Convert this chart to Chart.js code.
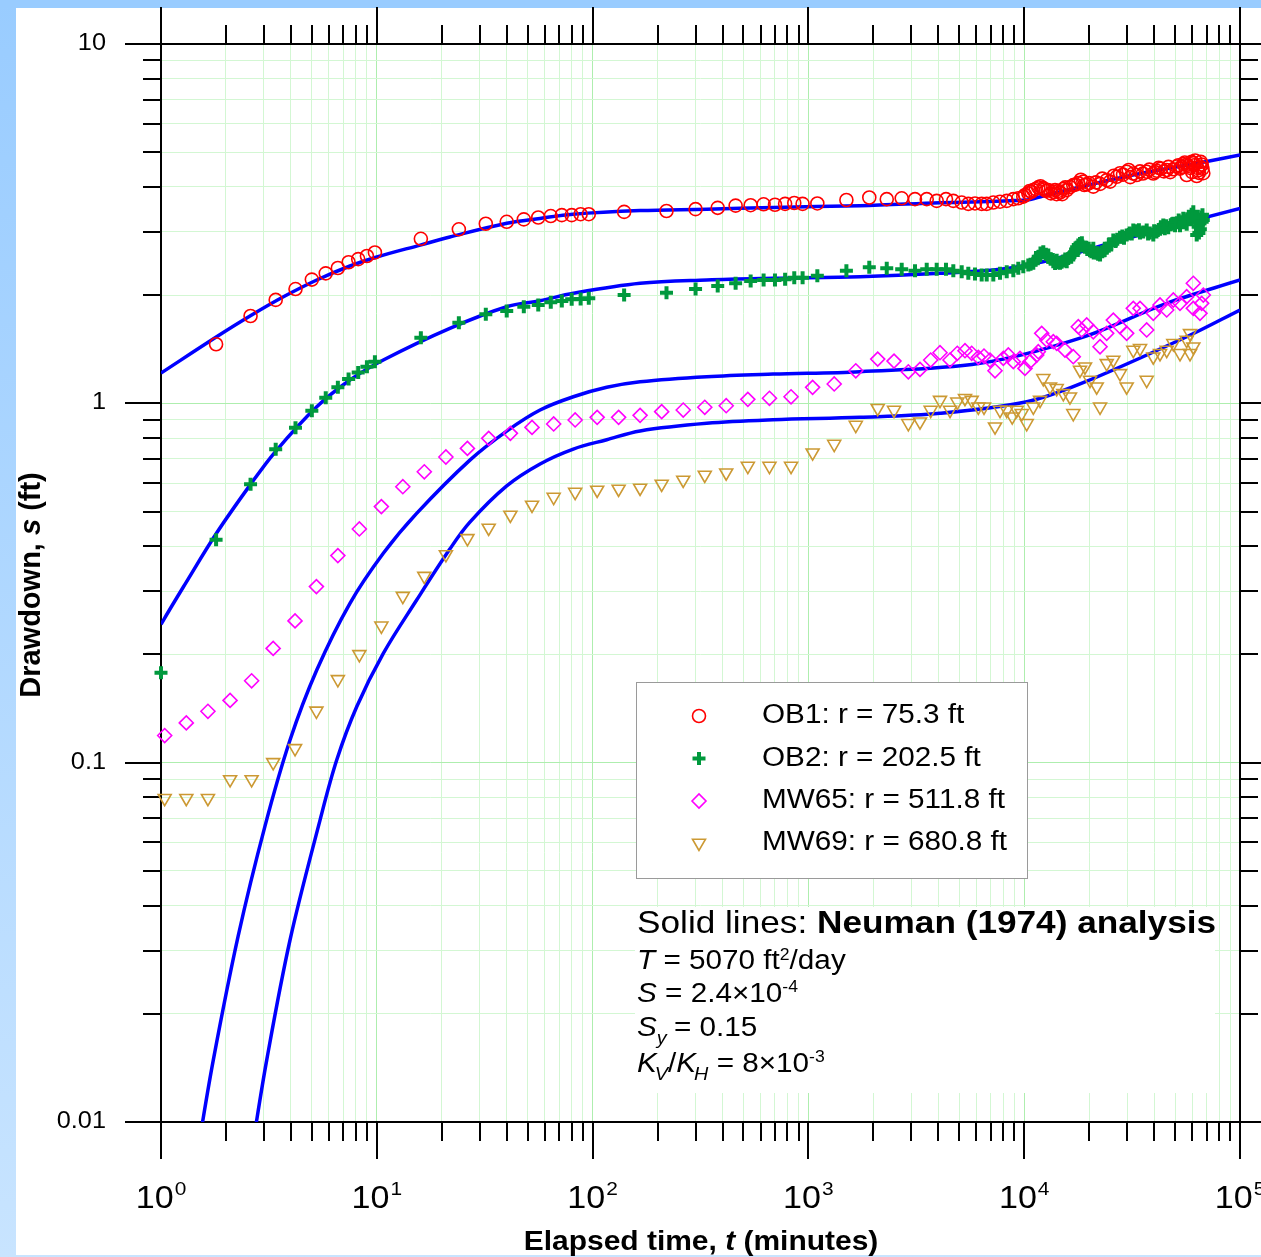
<!DOCTYPE html>
<html>
<head>
<meta charset="utf-8">
<script src="https://cdn.jsdelivr.net/npm/chart.js@4.4.1/dist/chart.umd.min.js"></script>
<style>
  html, body { margin: 0; padding: 0; background: #fff; }
  canvas { display: block; }
</style>
</head>
<body>
<canvas id="drawdown-chart" width="1261" height="1257"></canvas>
<script>
// ---- data (time in minutes, drawdown in ft) ----
const seriesLabels = ['OB1: r = 75.3 ft', 'OB2: r = 202.5 ft', 'MW65: r = 511.8 ft', 'MW69: r = 680.8 ft'];

const ob1Time = [1.8, 2.6, 3.4, 4.2, 5.0, 5.8, 6.6, 7.4, 8.2, 9.0, 9.8, 16, 24, 32, 40, 48, 56, 64, 72, 80, 88, 96,
  140, 220, 300, 380, 460, 540, 620, 700, 780, 860, 940, 1100, 1500, 1915, 2307, 2706, 3119, 3534, 3931, 4341, 4694,
  5133, 5508, 5916, 6353, 6702, 7192, 7726, 8298, 8905, 9389, 9904, 10447, 10800, 11020, 11620, 12260, 12600, 12930,
  13640, 14140, 14650, 15180, 15740, 16880, 17810, 18790, 19480, 20900, 22460, 24120, 26840, 27800, 29850, 31000,
  33210, 34410, 36950, 39650, 41110, 43000, 45750, 47500, 50890, 52720, 54610, 56620, 58660, 59740, 60770, 62000,
  63010, 64000, 65250, 66450, 67600, 56620,
  10100, 10600, 11300, 11900, 12400, 13300, 13900, 14400, 15000, 15500, 16300, 17300, 18300, 19000, 20000, 21500,
  23000, 25000, 26000, 28700, 30500, 32000, 35500, 38000, 40300, 42000, 44400, 46600, 49000, 51800, 53500, 55500,
  57600, 61300, 63500, 65800, 67000, 64500, 60000];
const ob1Drawdown = [1.46, 1.75, 1.94, 2.08, 2.21, 2.30, 2.38, 2.47, 2.52, 2.57, 2.63, 2.87, 3.05, 3.16, 3.20, 3.25, 3.29, 3.32, 3.34, 3.34, 3.36, 3.36,
  3.41, 3.43, 3.47, 3.50, 3.55, 3.56, 3.58, 3.57, 3.59, 3.61, 3.59, 3.60, 3.68, 3.74, 3.70, 3.72, 3.70, 3.70, 3.66, 3.70, 3.66,
  3.62, 3.59, 3.60, 3.59, 3.59, 3.62, 3.64, 3.66, 3.70, 3.72, 3.76, 3.84, 3.88, 3.92, 3.99, 3.97, 3.90, 3.92,
  3.88, 3.82, 3.86, 3.95, 3.92, 4.05, 4.10, 4.14, 4.07, 4.01, 4.08, 4.18, 4.27, 4.37, 4.41, 4.26,
  4.32, 4.42, 4.41, 4.36, 4.44, 4.50, 4.46, 4.40, 4.56, 4.50, 4.63, 4.61, 4.52, 4.70, 4.66, 4.74,
  4.29, 4.45, 4.56, 4.62, 4.37, 4.32,
  3.80, 3.90, 3.95, 4.02, 3.94, 3.84, 3.92, 3.90, 3.82, 3.99, 4.00, 4.06, 4.19, 4.05, 4.10, 4.12,
  4.22, 4.14, 4.30, 4.33, 4.46, 4.36, 4.36, 4.47, 4.40, 4.52, 4.42, 4.55, 4.48, 4.60, 4.55, 4.68,
  4.58, 4.60, 4.52, 4.70, 4.50, 4.38, 4.40];

const ob2Time = [1, 1.8, 2.6, 3.4, 4.2, 5.0, 5.8, 6.6, 7.4, 8.2, 9.0, 9.8, 16, 24, 32, 40, 48, 56, 64, 72, 80, 88, 96,
  140, 220, 300, 380, 460, 540, 620, 700, 780, 860, 940, 1100, 1500, 1915, 2307, 2706, 3119, 3534, 3931, 4341, 4694,
  5133, 5508, 5916, 6353, 6702, 7192, 7726, 8298, 8905, 9389, 9904, 10447, 11020, 11620, 12260, 12930, 13640, 14140,
  14650, 15180, 15740, 16880, 17810, 18140, 19130, 20180, 20900, 21680, 22460, 24120, 25880, 27800, 29850, 32030,
  34410, 36950, 39650, 42590, 44120, 46500, 49090, 52720, 54610, 56620, 58660, 60770, 62000, 63010, 65250, 66450, 67600,
  12600, 13300, 14400, 15500, 16300, 17300, 18500, 19600, 21000, 23000, 24800, 26500, 28500, 30800, 33200, 35600,
  38200, 41000, 43000, 45500, 47800, 51000, 53500, 55700, 57600, 59700, 61500, 64000, 66000, 67000, 64500,
  10700, 11300, 11900, 12900, 13900, 14900, 16000, 17000, 17500, 18600, 19900, 20500, 22000, 23500, 25300, 27000,
  29000, 31500, 34000, 37500, 40000, 44800, 48500, 50000, 52000, 55000, 58000, 60500, 62500, 65500, 66800];
const ob2Drawdown = [0.178, 0.417, 0.595, 0.745, 0.855, 0.954, 1.037, 1.108, 1.169, 1.219, 1.264, 1.306, 1.523, 1.676, 1.769, 1.807, 1.858, 1.878, 1.911, 1.927, 1.947, 1.951, 1.960,
  2.002, 2.032, 2.080, 2.121, 2.158, 2.189, 2.204, 2.204, 2.214, 2.237, 2.237, 2.266, 2.339, 2.391, 2.375, 2.360, 2.339, 2.360, 2.360, 2.360, 2.339,
  2.324, 2.300, 2.291, 2.276, 2.276, 2.276, 2.300, 2.324, 2.339, 2.375, 2.400, 2.426, 2.453, 2.559, 2.642, 2.587, 2.478, 2.50,
  2.453, 2.49, 2.478, 2.587, 2.757, 2.787, 2.72, 2.66, 2.700, 2.62, 2.587, 2.70, 2.848, 2.90, 2.941, 3.037,
  2.98, 3.037, 2.941, 3.05, 3.135, 3.08, 3.170, 3.12, 3.273, 3.15, 3.30, 3.414, 3.20, 2.941, 3.170, 3.30, 3.237,
  2.60, 2.52, 2.46, 2.52, 2.56, 2.68, 2.80, 2.68, 2.62, 2.64, 2.78, 2.82, 2.92, 2.98, 3.02, 3.00,
  2.98, 3.00, 3.10, 3.12, 3.14, 3.18, 3.20, 3.22, 3.25, 3.36, 3.30, 3.10, 3.25, 3.35, 2.98,
  2.44, 2.50, 2.62, 2.55, 2.45, 2.47, 2.53, 2.62, 2.72, 2.74, 2.70, 2.64, 2.60, 2.66, 2.76, 2.86,
  2.88, 2.96, 3.04, 2.96, 3.02, 3.06, 3.16, 3.12, 3.24, 3.18, 3.28, 3.34, 3.28, 3.05, 3.20];

const mw65Time = [1.04, 1.31, 1.65, 2.09, 2.63, 3.31, 4.18, 5.25, 6.6, 8.3, 10.5, 13.2, 16.6, 20.9, 26.3, 33, 41.6, 52.4, 66, 83,
  105, 132, 166, 209, 263, 331, 416, 524, 660, 831, 1046, 1317, 1658, 2095, 2493, 2904, 3289, 3687, 4072, 4532, 4898,
  5317, 5710, 6130, 6512, 6942, 7324, 8003, 8441, 8905, 9561, 10085, 10640, 11430, 11620, 12050, 12710, 13640, 14140,
  15450, 16880, 17810, 18480, 19480, 20900, 22460, 24120, 25880, 27800, 29850, 32030, 34410, 36950, 39650, 42590,
  45750, 49090, 52720, 56620, 60770, 60770, 65250, 67600, 66450];
const mw65Drawdown = [0.119, 0.129, 0.139, 0.149, 0.169, 0.208, 0.248, 0.309, 0.377, 0.447, 0.516, 0.586, 0.645, 0.709, 0.749, 0.799, 0.825, 0.857, 0.876, 0.899,
  0.914, 0.914, 0.926, 0.948, 0.958, 0.975, 0.985, 1.026, 1.033, 1.043, 1.108, 1.132, 1.232, 1.328, 1.311, 1.224, 1.243, 1.320, 1.383, 1.320, 1.378,
  1.401, 1.378, 1.343, 1.354, 1.320, 1.232, 1.334, 1.363, 1.306, 1.334, 1.251, 1.306, 1.363, 1.392, 1.566, 1.500, 1.484, 1.469,
  1.407, 1.348, 1.634, 1.600, 1.652, 1.582, 1.437, 1.566, 1.705, 1.634, 1.566, 1.838, 1.838, 1.600, 1.780, 1.878,
  1.819, 1.939, 1.898, 1.981, 2.158, 1.838, 1.780, 2.002, 1.898];

const mw69Time = [1.04, 1.31, 1.65, 2.09, 2.63, 3.31, 4.18, 5.25, 6.6, 8.3, 10.5, 13.2, 16.6, 20.9, 26.3, 33, 41.6, 52.4, 66, 83,
  105, 132, 166, 209, 263, 331, 416, 524, 660, 831, 1046, 1317, 1658, 2095, 2493, 2904, 3289, 3687, 4072, 4532, 4898,
  5317, 5710, 6130, 6512, 7324, 7726, 8298, 8800, 9230, 9737, 10270, 11020, 11840, 12260, 13170, 14140, 15180, 16300,
  16880, 18140, 19130, 20180, 21680, 22460, 24120, 25880, 27800, 29850, 32030, 34410, 36950, 39650, 42590, 45750,
  49090, 52720, 56620, 58660, 58660, 60770];
const mw69Drawdown = [0.0796, 0.0796, 0.0796, 0.0898, 0.0898, 0.1002, 0.1096, 0.1394, 0.1705, 0.2001, 0.2404, 0.2908, 0.3304, 0.3797, 0.4209, 0.4498, 0.4889, 0.5212, 0.5485, 0.5664,
  0.5738, 0.5775, 0.5812, 0.5963, 0.6118, 0.6317, 0.641, 0.669, 0.669, 0.669, 0.7287, 0.7703, 0.870, 0.969, 0.958, 0.880, 0.889, 0.958, 1.021, 0.958, 1.010,
  1.033, 1.021, 0.978, 0.978, 0.861, 0.958, 0.958, 0.918, 0.958, 0.938, 0.880, 0.978, 1.021, 1.174, 1.112, 1.101, 1.066, 1.043,
  0.938, 1.238, 1.264, 1.161, 1.112, 0.978, 1.292, 1.320, 1.212, 1.112, 1.407, 1.423, 1.161, 1.348, 1.378, 1.407,
  1.469, 1.378, 1.500, 1.378, 1.566, 1.437];

// Neuman (1974) type curves
const fitOB1Time = [1, 1.81, 2.585, 3.675, 5.27, 7.51, 10, 15.9, 21.8, 40, 57.1, 81, 166, 338, 686, 1734, 4070, 10280, 12220, 18150, 31900, 70100, 100000];
const fitOB1 = [1.214, 1.532, 1.75, 1.976, 2.204, 2.411, 2.554, 2.757, 2.903, 3.17, 3.27, 3.36, 3.44, 3.47, 3.51, 3.548, 3.617, 3.68, 3.776, 4.00, 4.32, 4.71, 4.91];
const fitOB2Time = [1, 1.101, 1.269, 1.81, 2.585, 3.377, 5.27, 7.51, 10.72, 21.8, 40, 57.1, 81.4, 166, 338, 686, 1734, 4070, 7726, 12220, 18150, 31900, 100000];
const fitOB2 = [0.2426, 0.2677, 0.3082, 0.4355, 0.592, 0.732, 0.978, 1.161, 1.32, 1.617, 1.857, 1.93, 2.024, 2.158, 2.204, 2.228, 2.251, 2.30, 2.36, 2.478, 2.637, 2.909, 3.488];
const fitMW65Time = [1.484, 1.747, 2.275, 3.033, 3.962, 5.27, 7.51, 10.72, 15.3, 27.0, 40, 57.1, 81.4, 116.3, 166, 338, 686, 1734, 6240, 18150, 45700, 100000];
const fitMW65 = [0.0084, 0.01487, 0.0328, 0.0666, 0.1156, 0.181, 0.2776, 0.3825, 0.494, 0.695, 0.837, 0.958, 1.043, 1.108, 1.148, 1.186, 1.206, 1.225, 1.292, 1.519, 1.898, 2.204];
const fitMW69Time = [2.641, 3.089, 3.962, 5.457, 6.52, 8.07, 10.72, 15.3, 21.8, 27.0, 40, 57.1, 81.4, 116.3, 166, 338, 686, 1734, 4070, 10280, 18150, 56600, 100000];
const fitMW69 = [0.0084, 0.01487, 0.0321, 0.0692, 0.1017, 0.1431, 0.2014, 0.2835, 0.393, 0.467, 0.589, 0.678, 0.746, 0.792, 0.838, 0.880, 0.900, 0.914, 0.938, 1.010, 1.132, 1.532, 1.819];

// axis ticks
const xTickValues = [1, 10, 100, 1000, 10000, 100000];
const xTickExponents = ['0', '1', '2', '3', '4', '5'];
const yTickValues = [0.01, 0.1, 1, 10];
const yTickLabels = ['0.01', '0.1', '1', '10'];
const minorSteps = [1, 2, 3, 4, 5, 6, 7, 8, 9];

const FONT = '"Liberation Sans", Arial, Helvetica, sans-serif';
const STRETCH = 1.1;

function pairs(xs, ys) {
  return xs.map((x, i) => ({ x: x, y: ys[i] }));
}
function decadeGrid(lo, hi) {
  const out = [];
  for (let e = lo; e < hi; e++) {
    minorSteps.forEach(m => out.push(+(m * Math.pow(10, e)).toPrecision(3)));
  }
  out.push(Math.pow(10, hi));
  return out;
}
const xGrid = decadeGrid(0, 5);
const yGrid = decadeGrid(-2, 1);

function isDecade(v) {
  const l = Math.log10(v);
  return Math.abs(l - Math.round(l)) < 1e-6;
}

// draw a row of text runs with different fonts, left to right
function drawRuns(ctx, runs, x, y, stretch) {
  let cx = x;
  runs.forEach(r => {
    ctx.font = r.font;
    ctx.save();
    ctx.translate(cx, y + (r.dy || 0));
    ctx.scale(stretch, 1);
    ctx.fillText(r.text, 0, 0);
    ctx.restore();
    cx += ctx.measureText(r.text).width * stretch + (r.kern || 0);
  });
  return cx - x;
}
function runsWidth(ctx, runs, stretch) {
  let w = 0;
  runs.forEach(r => { ctx.font = r.font; w += ctx.measureText(r.text).width * stretch + (r.kern || 0); });
  return w;
}

const markerStyles = [
  { pointStyle: 'circle', radius: 6.5, borderWidth: 1.6, rotation: 0, color: '#ff0000' },
  { pointStyle: 'cross', radius: 6.5, borderWidth: 4, rotation: 0, color: '#00993d' },
  { pointStyle: 'rectRot', radius: 7, borderWidth: 1.6, rotation: 0, color: '#ff00ff' },
  { pointStyle: 'triangle', radius: 7.5, borderWidth: 1.6, rotation: 180, color: '#cc9933' }
];

function drawMarker(ctx, st, x, y) {
  ctx.save();
  ctx.strokeStyle = st.color;
  ctx.fillStyle = 'rgba(0,0,0,0)';
  ctx.lineWidth = st.borderWidth;
  Chart.helpers.drawPoint(ctx, { pointStyle: st.pointStyle, radius: st.radius, rotation: st.rotation, borderWidth: st.borderWidth }, x, y);
  ctx.restore();
}

const decorPlugin = {
  id: 'decor',
  beforeDraw(chart) {
    const ctx = chart.ctx;
    const W = chart.width, H = chart.height;
    ctx.save();
    const g = ctx.createLinearGradient(0, 0, 0, H);
    g.addColorStop(0, '#99ccff');
    g.addColorStop(1, '#c8e4ff');
    ctx.fillStyle = g;
    ctx.fillRect(0, 0, W, H);
    ctx.fillStyle = '#99ccff';
    ctx.fillRect(0, 0, W, 8);
    ctx.fillStyle = '#ffffff';
    ctx.fillRect(16, 8, W - 16, 1247);
    ctx.restore();
  },
  beforeDatasetsDraw(chart) {
    const ctx = chart.ctx;
    const xs = chart.scales.x, ys = chart.scales.y;
    const { left, right, top, bottom } = chart.chartArea;
    ctx.save();

    // legend box
    ctx.fillStyle = '#ffffff';
    ctx.fillRect(636, 682, 391, 196);
    ctx.strokeStyle = '#9a9a9a';
    ctx.lineWidth = 1;
    ctx.strokeRect(636.5, 682.5, 391, 196);
    const rowY = [716, 758.5, 801, 843];
    seriesLabels.forEach((lab, i) => {
      drawMarker(ctx, markerStyles[i], 699, rowY[i]);
      ctx.fillStyle = '#000';
      ctx.textBaseline = 'alphabetic';
      drawRuns(ctx, [{ text: lab, font: '27px ' + FONT }], 762, rowY[i] + 7, STRETCH);
    });

    // annotation block
    ctx.fillStyle = '#ffffff';
    ctx.fillRect(635, 907, 580, 186);
    ctx.fillStyle = '#000';
    const reg = '27px ' + FONT, ita = 'italic 27px ' + FONT;
    const sup = '16px ' + FONT, sub = 'italic 18px ' + FONT;
    drawRuns(ctx, [
      { text: 'Solid lines: ', font: '32px ' + FONT },
      { text: 'Neuman (1974) analysis', font: 'bold 32px ' + FONT }
    ], 637, 933, STRETCH);
    drawRuns(ctx, [
      { text: 'T', font: ita }, { text: ' = 5070 ft', font: reg },
      { text: '2', font: sup, dy: -9 }, { text: '/day', font: reg }
    ], 637, 969, STRETCH);
    drawRuns(ctx, [
      { text: 'S', font: ita }, { text: ' = 2.4\u00d710', font: reg },
      { text: '-4', font: sup, dy: -10 }
    ], 637, 1002, STRETCH);
    drawRuns(ctx, [
      { text: 'S', font: ita }, { text: 'y', font: sub, dy: 8, kern: -1 },
      { text: ' = 0.15', font: reg }
    ], 637, 1036, STRETCH);
    drawRuns(ctx, [
      { text: 'K', font: ita, kern: -2 }, { text: 'V', font: sub, dy: 8 },
      { text: '/', font: reg }, { text: 'K', font: ita, kern: -2 },
      { text: 'H', font: sub, dy: 8 }, { text: ' = 8\u00d710', font: reg },
      { text: '-3', font: sup, dy: -10 }
    ], 637, 1072, STRETCH);

    // frame
    ctx.strokeStyle = '#000';
    ctx.lineWidth = 2;
    ctx.strokeRect(left, top, right - left, bottom - top);
    ctx.beginPath();
    xGrid.forEach(v => {
      const p = Math.round(xs.getPixelForValue(v));
      const len = isDecade(v) ? 37 : 19;
      ctx.moveTo(p, bottom); ctx.lineTo(p, bottom + len);
      ctx.moveTo(p, top); ctx.lineTo(p, top - len);
    });
    yGrid.forEach(v => {
      const p = Math.round(ys.getPixelForValue(v));
      const len = isDecade(v) ? 36 : 18;
      ctx.moveTo(left, p); ctx.lineTo(left - len, p);
      ctx.moveTo(right, p); ctx.lineTo(right + len, p);
    });
    ctx.stroke();
    ctx.restore();
  },
  afterDraw(chart) {
    const ctx = chart.ctx;
    const xs = chart.scales.x, ys = chart.scales.y;
    ctx.save();
    ctx.fillStyle = '#000';
    ctx.textBaseline = 'alphabetic';

    // y tick labels
    yTickValues.forEach((v, i) => {
      const p = ys.getPixelForValue(v);
      const runs = [{ text: yTickLabels[i], font: '23px ' + FONT }];
      const w = runsWidth(ctx, runs, STRETCH);
      drawRuns(ctx, runs, 106 - w, p + 6, STRETCH);
    });

    // x tick labels: 10^n
    xTickValues.forEach((v, i) => {
      const p = xs.getPixelForValue(v);
      const runs = [
        { text: '10', font: '31px ' + FONT, kern: 1 },
        { text: xTickExponents[i], font: '19px ' + FONT, dy: -13 }
      ];
      const w = runsWidth(ctx, runs, STRETCH);
      drawRuns(ctx, runs, p - w / 2, 1208, STRETCH);
    });

    // x axis title
    const xt = [
      { text: 'Elapsed time, ', font: 'bold 28px ' + FONT },
      { text: 't', font: 'italic bold 28px ' + FONT },
      { text: ' (minutes)', font: 'bold 28px ' + FONT }
    ];
    const xw = runsWidth(ctx, xt, 1.07);
    drawRuns(ctx, xt, 701 - xw / 2, 1250, 1.07);

    // y axis title
    const yt = [
      { text: 'Drawdown, ', font: 'bold 29px ' + FONT },
      { text: 's', font: 'italic bold 29px ' + FONT },
      { text: ' (ft)', font: 'bold 29px ' + FONT }
    ];
    const yw = runsWidth(ctx, yt, 1.0);
    ctx.translate(40, 585);
    ctx.rotate(-Math.PI / 2);
    drawRuns(ctx, yt, -yw / 2, 0, 1.0);
    ctx.restore();
  }
};

function gridColor(c) {
  const v = c.tick && c.tick.value;
  return v && isDecade(v) ? '#aeeeae' : '#d3f7d3';
}

const markerSets = [
  [ob1Time, ob1Drawdown], [ob2Time, ob2Drawdown], [mw65Time, mw65Drawdown], [mw69Time, mw69Drawdown]
];
const fitSets = [[fitOB1Time, fitOB1], [fitOB2Time, fitOB2], [fitMW65Time, fitMW65], [fitMW69Time, fitMW69]];

const datasets = [];
markerSets.forEach((s, i) => {
  const st = markerStyles[i];
  datasets.push({
    label: seriesLabels[i],
    data: pairs(s[0], s[1]),
    showLine: false,
    pointStyle: st.pointStyle,
    pointRadius: st.radius,
    pointBorderWidth: st.borderWidth,
    pointRotation: st.rotation,
    borderColor: st.color,
    backgroundColor: 'rgba(0,0,0,0)',
    clip: false,
    order: 0
  });
});
fitSets.forEach((s, i) => {
  datasets.push({
    label: 'Neuman ' + seriesLabels[i],
    data: pairs(s[0], s[1]),
    showLine: true,
    pointRadius: 0,
    borderColor: '#0000ff',
    borderWidth: 3.5,
    tension: 0.35,
    order: 1
  });
});

const ctx = document.getElementById('drawdown-chart');
const chart = new Chart(ctx, {
  type: 'scatter',
  data: { datasets: datasets },
  options: {
    responsive: false,
    animation: false,
    layout: { padding: { left: 161, top: 44, right: 21, bottom: 135 } },
    plugins: { legend: { display: false }, tooltip: { enabled: false } },
    scales: {
      x: {
        type: 'logarithmic', min: 1, max: 100000,
        afterBuildTicks: s => { s.ticks = xGrid.map(v => ({ value: v })); },
        ticks: { display: false },
        grid: { color: gridColor, lineWidth: 1, drawTicks: false },
        border: { display: false }
      },
      y: {
        type: 'logarithmic', min: 0.01, max: 10,
        afterBuildTicks: s => { s.ticks = yGrid.map(v => ({ value: v })); },
        ticks: { display: false },
        grid: { color: gridColor, lineWidth: 1, drawTicks: false },
        border: { display: false }
      }
    }
  },
  plugins: [decorPlugin]
});
</script>
</body>
</html>
